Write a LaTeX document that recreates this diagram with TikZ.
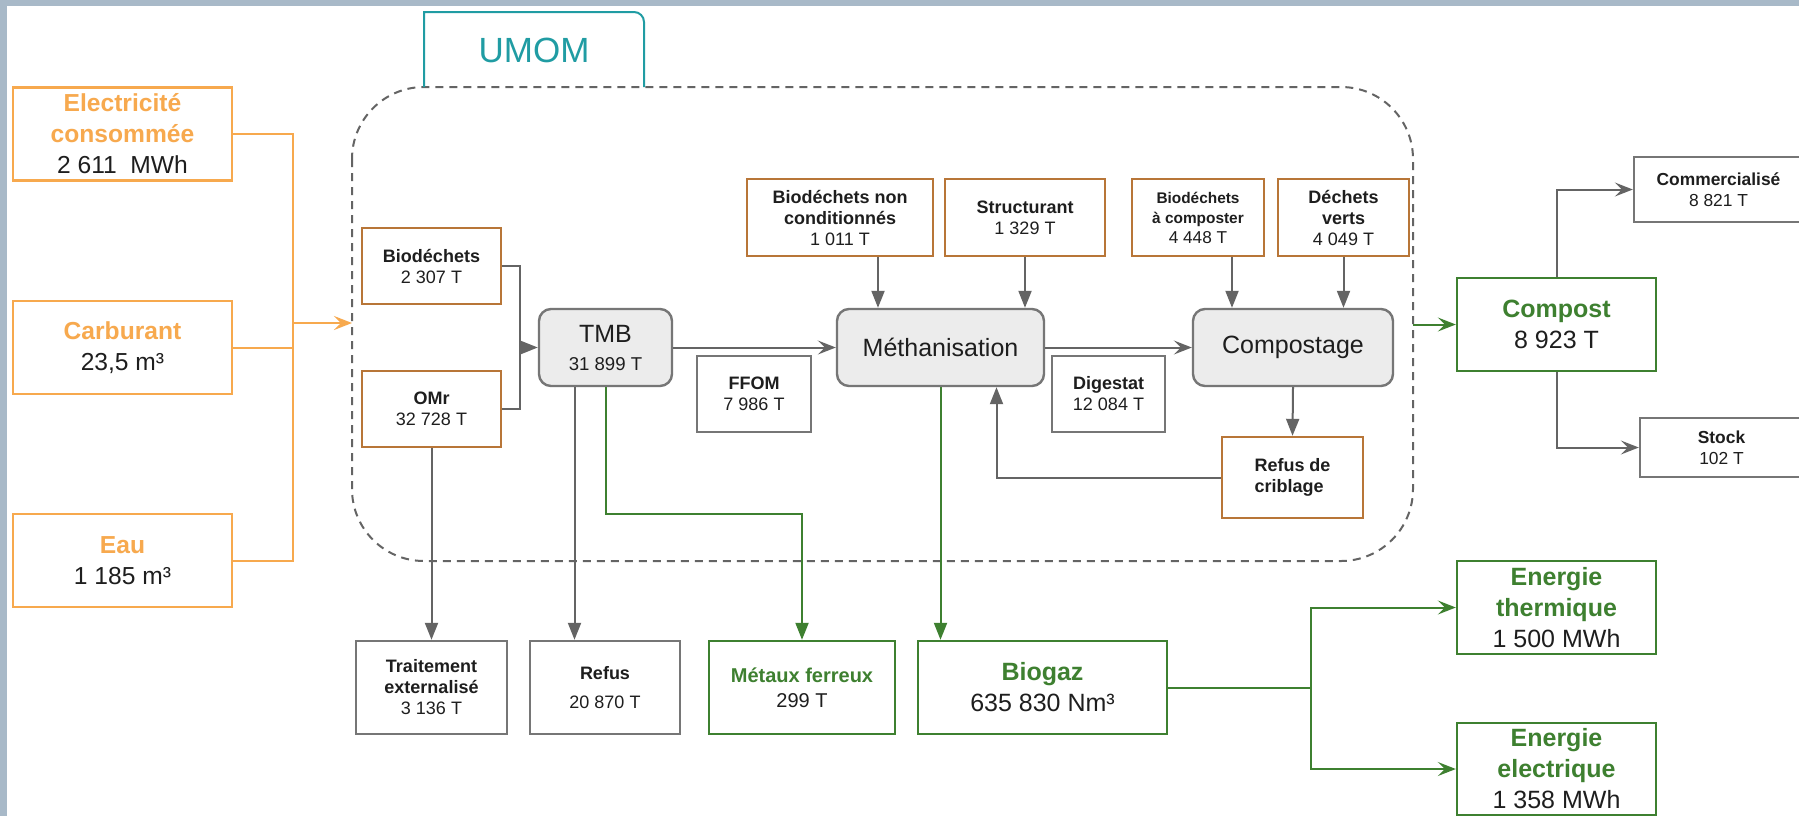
\documentclass[tikz,border=0pt]{standalone}
\usepackage{fontspec}
\setmainfont{Liberation Sans}
\usetikzlibrary{arrows.meta}
\definecolor{orng}{RGB}{247,169,78}
\definecolor{brn}{RGB}{184,118,56}
\definecolor{grn}{RGB}{62,128,48}
\definecolor{lnc}{RGB}{100,100,100}
\definecolor{bxc}{RGB}{118,118,118}
\definecolor{fil}{RGB}{236,236,236}
\definecolor{umc}{RGB}{32,156,163}
\definecolor{frm}{RGB}{168,185,200}
\definecolor{txt}{RGB}{30,30,30}
\begin{document}
\begin{tikzpicture}[x=0.5pt, y=-0.5pt,
    box/.style={draw, line width=1.2pt, inner sep=0pt, align=center, text=txt},
    inbox/.style={box, draw=orng, minimum width=109.5pt, minimum height=46.5pt, font=\fontsize{12.3}{15.5}\selectfont},
    srcbox/.style={box, draw=brn, font=\fontsize{9}{10.5}\selectfont},
    procbox/.style={box, draw=bxc, fill=fil, rounded corners=6pt, minimum height=38.5pt, font=\fontsize{12.5}{15}\selectfont},
    outbox/.style={box, draw=bxc, font=\fontsize{9}{10.5}\selectfont},
    grnbox/.style={box, draw=grn, font=\fontsize{12.5}{15.5}\selectfont},
    gline/.style={draw=lnc, line width=1pt},
    oline/.style={draw=orng, line width=1pt},
    grline/.style={draw=grn, line width=1pt},
    tri/.style={-{Triangle[length=8.5pt,width=6.5pt]}},
    chev/.style={-{Stealth[length=9pt,width=7pt,inset=3.5pt]}}]
\useasboundingbox (0,0) rectangle (1799,816);
\fill[frm] (0,0) rectangle (1799,816);
\fill[white] (7,6) rectangle (1799,816);
% perimetre UMOM
\draw[lnc, line width=1pt, dash pattern=on 4pt off 3pt, rounded corners=36pt] (352,87) rectangle (1413,561);
\draw[umc, line width=1pt] (424,87) -- (424,12) -- (600,12) [rounded corners=5pt] -- (644,12) -- (644,87);
\node[text=umc, font=\fontsize{17.5}{20}\selectfont] (umom) at (534,50) {UMOM};
% entrees
\node[inbox] (elec) at (122.5,134) {\textcolor{orng}{\textbf{Electricité}}\\\textcolor{orng}{\textbf{consommée}}\\2 611\ \ MWh};
\node[inbox] (carb) at (122.5,347.5) {\textcolor{orng}{\textbf{Carburant}}\\23,5 m³};
\node[inbox] (eau) at (122.5,560.5) {\textcolor{orng}{\textbf{Eau}}\\1 185 m³};
\coordinate (obus) at (293,323);
\coordinate (cin) at (352,323);
\draw[oline] (elec.east) -| (obus) |- (eau.east);
\draw[oline] (carb.east) -- (carb.east -| obus);
\draw[oline, chev] (obus) -- (cin);
% dechets entrants
\node[srcbox, minimum width=69.5pt, minimum height=38pt] (bio) at (431.5,266) {\textbf{Biodéchets}\\2 307 T};
\node[srcbox, minimum width=69.5pt, minimum height=38pt] (omr) at (431.5,409) {\textbf{OMr}\\32 728 T};
\node[srcbox, minimum width=93pt, minimum height=38.5pt] (bnc) at (840,217.5) {\textbf{Biodéchets non}\\\textbf{conditionnés}\\1 011 T};
\node[srcbox, minimum width=80pt, minimum height=38.5pt] (struct) at (1025,217.5) {\textbf{Structurant}\\1 329 T};
\node[srcbox, minimum width=66pt, minimum height=38.5pt, font=\fontsize{7.7}{10}\selectfont] (bac) at (1198,217.5) {\textbf{Biodéchets}\\\textbf{à composter}\\{\fontsize{8.6}{10}\selectfont 4 448 T}};
\node[srcbox, minimum width=65.5pt, minimum height=38.5pt] (dv) at (1343.5,217.5) {\textbf{Déchets}\\\textbf{verts}\\4 049 T};
\node[srcbox, minimum width=70.5pt, minimum height=40.5pt, align=left] (rcrib) at (1292.5,477.5) {\textbf{Refus de}\\\textbf{criblage}};
% procedes
\node[procbox, minimum width=66.5pt] (tmb) at (605.5,347.5) {TMB\\[-1pt]{\fontsize{9.3}{11}\selectfont 31 899 T}};
\node[procbox, minimum width=103.5pt] (meth) at (940.5,347.5) {Méthanisation};
\node[procbox, minimum width=100pt] (compo) at (1293,347.5) {Compostage};
\node[outbox, minimum width=57pt, minimum height=38pt] (ffom) at (754,394) {\textbf{FFOM}\\7 986 T};
\node[outbox, minimum width=56.5pt, minimum height=38pt] (dig) at (1108.5,394) {\textbf{Digestat}\\12 084 T};
% sorties
\node[outbox, minimum width=75.5pt, minimum height=46.5pt] (trait) at (431.5,687.5) {\textbf{Traitement}\\\textbf{externalisé}\\3 136 T};
\node[outbox, minimum width=75pt, minimum height=46.5pt] (refus) at (605,687.5) {\textbf{Refus}\\[4pt]20 870 T};
\node[grnbox, minimum width=93pt, minimum height=46.5pt, font=\fontsize{10}{12.5}\selectfont] (metaux) at (802,687.5) {\textcolor{grn}{\textbf{Métaux ferreux}}\\299 T};
\node[grnbox, minimum width=124.5pt, minimum height=46.5pt] (biogaz) at (1042.5,687.5) {\textcolor{grn}{\textbf{Biogaz}}\\635 830 Nm³};
\node[grnbox, minimum width=99.5pt, minimum height=46.5pt] (compost) at (1556.5,324.5) {\textcolor{grn}{\textbf{Compost}}\\8 923 T};
\node[grnbox, minimum width=99.5pt, minimum height=46.5pt] (eth) at (1556.5,607.5) {\textcolor{grn}{\textbf{Energie}}\\\textcolor{grn}{\textbf{thermique}}\\1 500 MWh};
\node[grnbox, minimum width=99.5pt, minimum height=46pt] (eel) at (1556.5,769) {\textcolor{grn}{\textbf{Energie}}\\\textcolor{grn}{\textbf{electrique}}\\1 358 MWh};
\node[outbox, minimum width=84.5pt, minimum height=32.5pt, font=\fontsize{8.7}{10.5}\selectfont] (comm) at (1718.5,189.5) {\textbf{Commercialisé}\\8 821 T};
\node[outbox, minimum width=81.5pt, minimum height=29.5pt, font=\fontsize{8.7}{10.5}\selectfont] (stock) at (1721.5,447.5) {\textbf{Stock}\\102 T};
% flux
\coordinate (tmbj) at (520,347.5);
\draw[gline] (bio.east) -| (tmbj) |- (omr.east);
\draw[gline, tri] (tmbj) -- (tmb.west);
\draw[gline, chev] (tmb.east) -- (meth.west);
\draw[gline, chev] (meth.east) -- (compo.west);
\draw[gline, tri] ([xshift=19pt]bnc.south) -- ([xshift=19pt]bnc.south |- meth.north);
\draw[gline, tri] (struct.south) -- (struct.south |- meth.north);
\draw[gline, tri] ([xshift=17pt]bac.south) -- ([xshift=17pt]bac.south |- compo.north);
\draw[gline, tri] (dv.south) -- (dv.south |- compo.north);
\draw[gline, tri] (compo.south) -- (rcrib.north);
\draw[gline, tri] (rcrib.west) -| ([xshift=28pt]meth.south);
\draw[gline, tri] (omr.south) -- (trait.north);
\draw[gline, tri] ([xshift=-15.5pt]tmb.south) -- ([xshift=-15.5pt]tmb.south |- refus.north);
\draw[grline, tri] (tmb.south) -- ++(0,127) -| (metaux.north);
\draw[grline, tri] (meth.south) -- (meth.south |- biogaz.north);
\coordinate (bj) at (1311,687.5);
\draw[grline] (biogaz.east) -- (bj);
\draw[grline, chev] (bj) |- (eth.west);
\draw[grline, chev] (bj) |- (eel.west);
\coordinate (cout) at (1413,324.5);
\draw[grline, chev] (cout) -- (compost.west);
\draw[gline, chev] (compost.north) |- (comm.west);
\draw[gline, chev] (compost.south) |- (stock.west);
\end{tikzpicture}
\end{document}
